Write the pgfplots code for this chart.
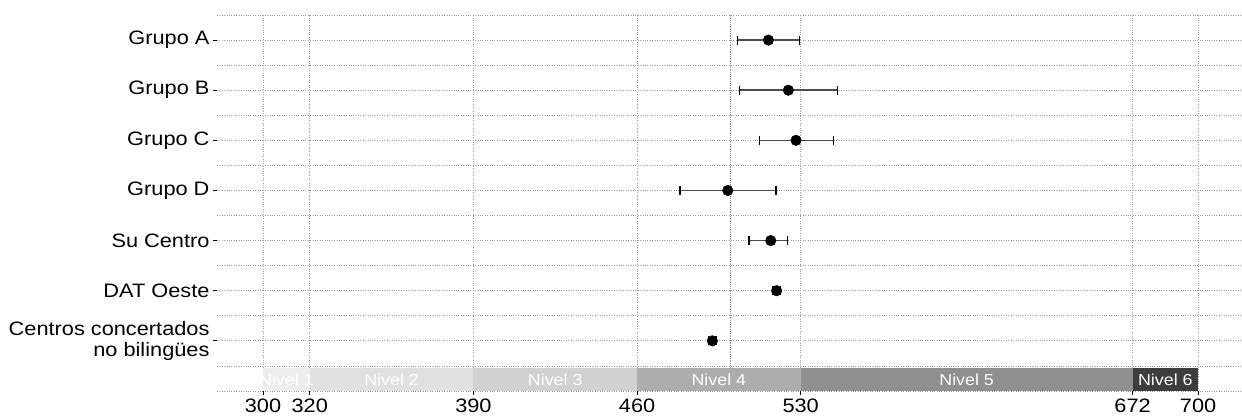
\documentclass[border=0pt]{standalone}
\usepackage{fontspec}
\setmainfont[FakeStretch=1.12]{Liberation Sans}
\usepackage{pgfplots}
\usepackage{pgfplotstable}
\pgfplotsset{compat=1.18}

\definecolor{nivA}{gray}{0.93}
\definecolor{nivB}{gray}{0.88}
\definecolor{nivC}{gray}{0.82}
\definecolor{nivD}{gray}{0.68}
\definecolor{nivE}{gray}{0.56}
\definecolor{nivF}{gray}{0.24}
\definecolor{barcol}{gray}{0.3}

% y: 7 = Grupo A ... 1 = Centros concertados no bilingues
\pgfplotstableread{
y  m      lo    hi
7  516.2  13.3  13.2
6  524.7  20.9  21.0
5  528.0  15.7  16.0
4  498.8  20.4  20.7
3  517.2   9.3   7.1
2  519.7   1.6   1.6
1  492.2   1.6   1.6
}\medias

\begin{document}
\begin{tikzpicture}
\begin{axis}[
  at={(217bp,29bp)}, anchor=south west,
  scale only axis, width=1025bp, height=376bp,
  xmin=280.3, xmax=718.8, ymin=0, ymax=7.5,
  axis line style={draw=none},
  clip=false,
  xtick={300,320,390,460,530,672,700},
  ytick={1,...,7},
  yticklabels={{Centros concertados\\no bilingües}, DAT Oeste, Su Centro, Grupo D, Grupo C, Grupo B, Grupo A},
  yticklabel style={align=right, font=\fontsize{19.5}{20.5}\selectfont},
  xticklabel style={font=\fontsize{19.5}{20.5}\selectfont},
  /pgf/number format/assume math mode=true,
  /pgf/number format/1000 sep={},
  xtick pos=lower, ytick pos=left,
  tick align=outside, major tick length=4bp,
  tick style={black, line width=0.8bp},
  minor ytick={0,0.5,...,7.5}, minor tick length=0pt,
  xmajorgrids, yminorgrids,
  major grid style={dotted, gray!75, line width=0.8bp},
  minor grid style={dotted, gray!75, line width=0.8bp},
  extra x ticks={500}, extra x tick labels={},
  extra x tick style={major tick length=0pt, grid=major,
    major grid style={densely dotted, gray!85, line width=1.1bp}},
]
% bandas de niveles
\addplot[fill=nivA, draw=none] coordinates {(300,0) (320,0) (320,0.46) (300,0.46)} -- cycle;
\addplot[fill=nivB, draw=none] coordinates {(320,0) (390,0) (390,0.46) (320,0.46)} -- cycle;
\addplot[fill=nivC, draw=none] coordinates {(390,0) (460,0) (460,0.46) (390,0.46)} -- cycle;
\addplot[fill=nivD, draw=none] coordinates {(460,0) (530,0) (530,0.46) (460,0.46)} -- cycle;
\addplot[fill=nivE, draw=none] coordinates {(530,0) (672,0) (672,0.46) (530,0.46)} -- cycle;
\addplot[fill=nivF, draw=none] coordinates {(672,0) (700,0) (700,0.46) (672,0.46)} -- cycle;
\foreach \cx/\lab in {310/Nivel 1, 355/Nivel 2, 425/Nivel 3, 495/Nivel 4, 601/Nivel 5, 686/Nivel 6}{
  \edef\tmp{\noexpand\node[white, font=\noexpand\fontsize{16}{17}\noexpand\selectfont] at (axis cs:\cx,0.23) {\lab};}
  \tmp
}
% medias con intervalos
\addplot[only marks, mark=*, black, mark size=5.3bp,
  error bars/.cd, x dir=both, x explicit,
  error bar style={barcol, line width=1.5bp},
  error mark options={rotate=90, black, mark size=4.5bp, line width=1.5bp}]
  table[x=m, y=y, x error minus=lo, x error plus=hi] {\medias};
\end{axis}
\pgfresetboundingbox
\path[use as bounding box] (0,0) rectangle (1242bp,420bp);
\end{tikzpicture}
\end{document}
